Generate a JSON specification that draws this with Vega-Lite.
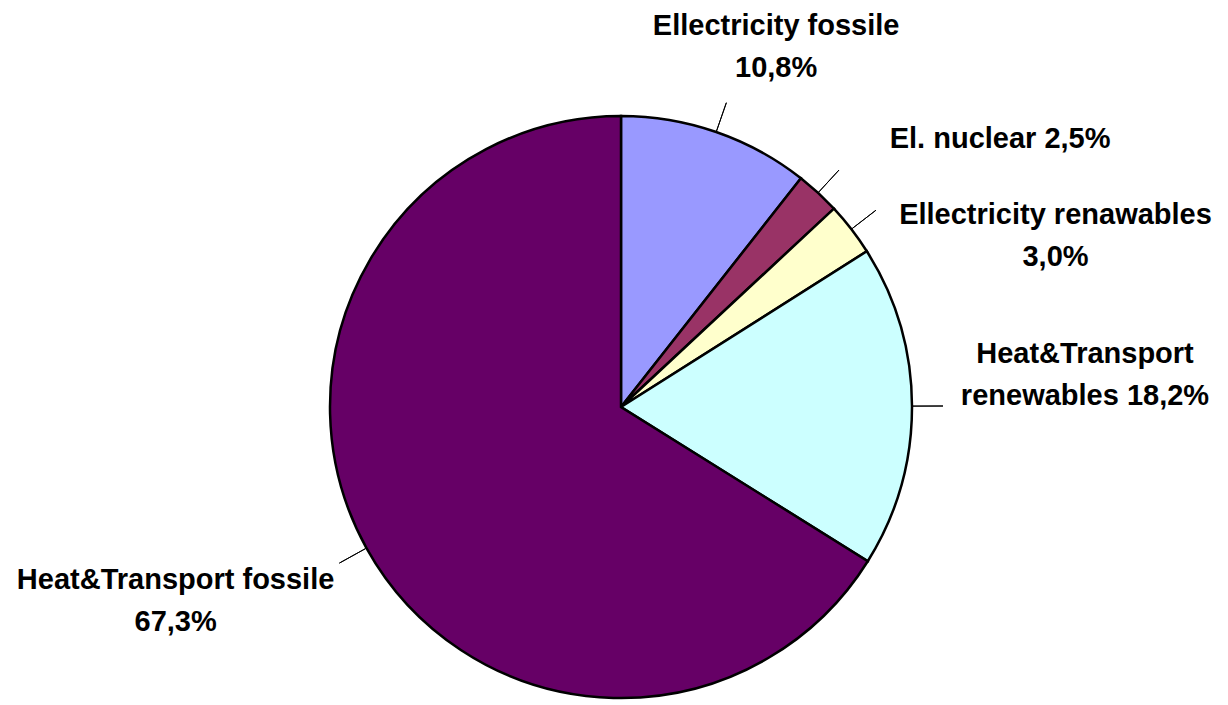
{
  "$schema": "https://vega.github.io/schema/vega-lite/v6.json",
  "autosize": {"type": "none"},
  "width": 1214,
  "height": 592,
  "padding": {"left": 14, "top": 111, "right": 0, "bottom": 0},
  "background": "white",
  "config": {"view": {"stroke": null}},
  "data": {"values": [
    {"idx": 1, "category": "Ellectricity fossile", "value": 10.8, "label": "Ellectricity fossile\n10,8%"},
    {"idx": 2, "category": "El. nuclear", "value": 2.5, "label": "El. nuclear 2,5%"},
    {"idx": 3, "category": "Ellectricity renawables", "value": 3.0, "label": "Ellectricity renawables\n3,0%"},
    {"idx": 4, "category": "Heat&Transport renewables", "value": 18.2, "label": "Heat&Transport\nrenewables 18,2%"},
    {"idx": 5, "category": "Heat&Transport fossile", "value": 67.3, "label": "Heat&Transport fossile\n67,3%"}
  ]},
  "transform": [
    {"joinaggregate": [{"op": "sum", "field": "value", "as": "total"}]},
    {"window": [{"op": "sum", "field": "value", "as": "cum"}], "sort": [{"field": "idx"}], "frame": [null, 0]},
    {"calculate": "(datum.cum - datum.value) / datum.total * 2 * PI", "as": "a0"},
    {"calculate": "datum.cum / datum.total * 2 * PI", "as": "a1"},
    {"calculate": "(datum.a0 + datum.a1) / 2", "as": "mid"}
  ],
  "layer": [
    {
      "mark": {"type": "arc", "radius": 291, "stroke": "black", "strokeWidth": 2.5},
      "encoding": {
        "theta": {"field": "a0", "type": "quantitative", "scale": null},
        "theta2": {"field": "a1"},
        "color": {"field": "category", "type": "nominal", "legend": null,
          "scale": {"domain": ["Ellectricity fossile", "El. nuclear", "Ellectricity renawables", "Heat&Transport renewables", "Heat&Transport fossile"],
                    "range": ["#9999FF", "#993366", "#FFFFCC", "#CCFFFF", "#660066"]}}
      }
    },
    {
      "mark": {"type": "arc", "radius": 322, "radius2": 292, "stroke": "black", "strokeWidth": 1, "fill": null},
      "encoding": {
        "theta": {"field": "mid", "type": "quantitative", "scale": null},
        "theta2": {"field": "mid"}
      }
    },
    {
      "transform": [{"filter": "datum.idx == 1"}],
      "mark": {"type": "text", "radius": 300, "dx": 57, "dy": -98, "font": "Liberation Sans", "fontWeight": "bold", "fontSize": 29, "lineBreak": "\n", "lineHeight": 42, "align": "center", "baseline": "middle"},
      "encoding": {"theta": {"field": "mid", "type": "quantitative", "scale": null}, "text": {"field": "label"}}
    },
    {
      "transform": [{"filter": "datum.idx == 2"}],
      "mark": {"type": "text", "radius": 300, "dx": 176, "dy": -47, "font": "Liberation Sans", "fontWeight": "bold", "fontSize": 29, "lineBreak": "\n", "lineHeight": 42, "align": "center", "baseline": "middle"},
      "encoding": {"theta": {"field": "mid", "type": "quantitative", "scale": null}, "text": {"field": "label"}}
    },
    {
      "transform": [{"filter": "datum.idx == 3"}],
      "mark": {"type": "text", "radius": 300, "dx": 197, "dy": -9, "font": "Liberation Sans", "fontWeight": "bold", "fontSize": 29, "lineBreak": "\n", "lineHeight": 42, "align": "center", "baseline": "middle"},
      "encoding": {"theta": {"field": "mid", "type": "quantitative", "scale": null}, "text": {"field": "label"}}
    },
    {
      "transform": [{"filter": "datum.idx == 4"}],
      "mark": {"type": "text", "radius": 300, "dx": 164, "dy": -52, "font": "Liberation Sans", "fontWeight": "bold", "fontSize": 29, "lineBreak": "\n", "lineHeight": 42, "align": "center", "baseline": "middle"},
      "encoding": {"theta": {"field": "mid", "type": "quantitative", "scale": null}, "text": {"field": "label"}}
    },
    {
      "transform": [{"filter": "datum.idx == 5"}],
      "mark": {"type": "text", "radius": 300, "dx": -183, "dy": 28, "font": "Liberation Sans", "fontWeight": "bold", "fontSize": 29, "lineBreak": "\n", "lineHeight": 42, "align": "center", "baseline": "middle"},
      "encoding": {"theta": {"field": "mid", "type": "quantitative", "scale": null}, "text": {"field": "label"}}
    }
  ]
}
